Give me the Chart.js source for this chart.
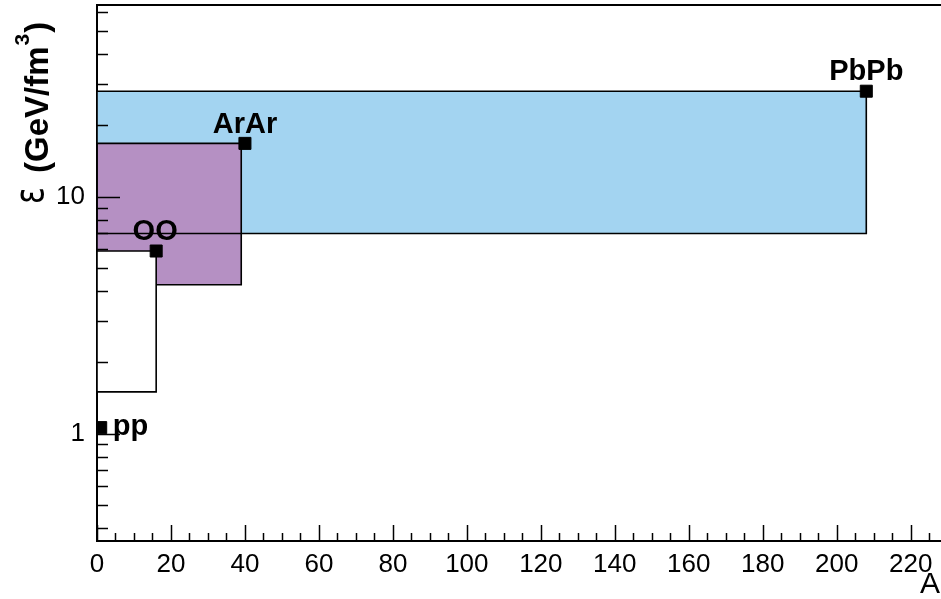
<!DOCTYPE html>
<html>
<head>
<meta charset="utf-8">
<title>energy density vs A</title>
<script src="https://cdn.jsdelivr.net/npm/chart.js@4.4.1/dist/chart.umd.min.js"></script>
<style>
  html, body { margin: 0; padding: 0; background: #fff; overflow: hidden; }
  canvas { display: block; }
</style>
</head>
<body>
<canvas id="chart" width="941" height="599"></canvas>
<script>
// collision systems, mass number A and energy density (GeV/fm^3)
const systems = ['pp', 'OO', 'ArAr', 'PbPb'];
const massNumber = [1, 16, 40, 208];
const energyDensity = [1.06, 5.9, 16.8, 27.9];

// shaded ranges (A from 0 up to boxAMax, eps from boxLow to boxHigh)
const boxNames = ['OO', 'ArAr', 'PbPb'];
const boxAMax = [16, 39, 208];
const boxLow = [1.5, 4.25, 7.0];
const boxHigh = [5.9, 16.8, 27.9];

const xTickLabels = [0, 20, 40, 60, 80, 100, 120, 140, 160, 180, 200, 220];
const yTickLabels = [1, 10];

const FONT = '"Liberation Sans", Arial, Helvetica, sans-serif';

function rectPoints(i) {
  const x0 = 0, x1 = boxAMax[i], y0 = boxLow[i], y1 = boxHigh[i];
  return [
    { x: x0, y: y0 }, { x: x1, y: y0 }, { x: x1, y: y1 }, { x: x0, y: y1 }, { x: x0, y: y0 }
  ];
}

const boxDefaults = { type: 'line', pointRadius: 0, tension: 0, borderJoinStyle: 'miter' };

const datasets = [
  // markers on top
  {
    type: 'line', label: 'systems', order: 0, showLine: false,
    data: systems.map((s, i) => ({ x: massNumber[i], y: energyDensity[i] })),
    pointStyle: 'rect', pointRadius: 8.5, backgroundColor: '#000', borderColor: '#000', borderWidth: 1
  },
  // OO range, white
  { ...boxDefaults, label: boxNames[0], order: 1, data: rectPoints(0), fill: 'shape',
    backgroundColor: '#ffffff', borderColor: '#000', borderWidth: 1.6 },
  // PbPb outline drawn over ArAr fill
  { ...boxDefaults, label: boxNames[2] + ' outline', order: 2, data: rectPoints(2), fill: false,
    borderColor: '#000', borderWidth: 1.6 },
  // ArAr range, purple
  { ...boxDefaults, label: boxNames[1], order: 3, data: rectPoints(1), fill: 'shape',
    backgroundColor: '#b590c3', borderColor: '#000', borderWidth: 1.6 },
  // PbPb range, light blue
  { ...boxDefaults, label: boxNames[2], order: 4, data: rectPoints(2), fill: 'shape',
    backgroundColor: '#a3d4f1', borderWidth: 0 }
];

// label offsets around the markers
const labelPlace = {
  pp:   { dx: 12, dy: 7, align: 'left' },
  OO:   { dx: -1, dy: -11, align: 'center' },
  ArAr: { dx: 0, dy: -10, align: 'center' },
  PbPb: { dx: 0, dy: -11, align: 'center' }
};

const rootStyle = {
  id: 'rootStyle',
  afterDatasetsDraw(chart) {
    const ctx = chart.ctx;
    const area = chart.chartArea;
    const xs = chart.scales.x, ys = chart.scales.y;
    ctx.save();
    ctx.strokeStyle = '#000';
    ctx.lineWidth = 1.5;

    // x ticks, pointing inward
    ctx.beginPath();
    for (let v = 0; v <= xs.max; v += 5) {
      const px = Math.round(xs.getPixelForValue(v)) + 0.5;
      const len = v % 20 === 0 ? 16 : 8;
      ctx.moveTo(px, area.bottom);
      ctx.lineTo(px, area.bottom - len);
    }
    // y ticks (log), pointing inward
    for (let dec = 0.1; dec <= 100; dec *= 10) {
      for (let m = 1; m <= 9; m++) {
        const v = m * dec;
        if (v < ys.min || v > ys.max) continue;
        const py = Math.round(ys.getPixelForValue(v)) + 0.5;
        const len = m === 1 ? 23 : 11;
        ctx.moveTo(area.left, py);
        ctx.lineTo(area.left + len, py);
      }
    }
    ctx.stroke();

    // top frame line
    ctx.lineWidth = 2;
    ctx.beginPath();
    ctx.moveTo(area.left, area.top);
    ctx.lineTo(area.right, area.top);
    ctx.stroke();

    // marker labels
    const meta = chart.getDatasetMeta(0);
    ctx.fillStyle = '#000';
    ctx.font = 'bold 29px ' + FONT;
    ctx.textBaseline = 'alphabetic';
    meta.data.forEach((pt, i) => {
      const p = labelPlace[systems[i]];
      ctx.textAlign = p.align;
      ctx.fillText(systems[i], pt.x + p.dx, pt.y + p.dy);
    });

    // x axis title
    ctx.font = '30px ' + FONT;
    ctx.textAlign = 'right';
    ctx.fillText('A', 940, 593);

    // y axis title, rotated
    ctx.translate(48, 205);
    ctx.rotate(-Math.PI / 2);
    ctx.textAlign = 'left';
    ctx.save();
    ctx.scale(1, 1.3);
    ctx.font = '31px "DejaVu Sans", sans-serif';
    ctx.fillText('\u03b5', 1, -4);
    ctx.restore();
    let pos = 32;
    ctx.font = 'bold 33px ' + FONT;
    ctx.fillText('(GeV/fm', pos, 0);
    pos += ctx.measureText('(GeV/fm').width + 1;
    ctx.font = 'bold 21px ' + FONT;
    ctx.fillText('3', pos, -19);
    pos += ctx.measureText('3').width + 1;
    ctx.font = 'bold 33px ' + FONT;
    ctx.fillText(')', pos, 0);
    ctx.restore();
  }
};

new Chart(document.getElementById('chart'), {
  type: 'line',
  data: { datasets },
  options: {
    responsive: false,
    animation: false,
    layout: { autoPadding: false, padding: { top: 5, right: 0, left: 0, bottom: 0 } },
    plugins: { legend: { display: false }, tooltip: { enabled: false } },
    scales: {
      x: {
        type: 'linear', position: 'bottom', min: 0, max: 228.2,
        grid: { display: false, drawTicks: false },
        border: { display: true, color: '#000', width: 2 },
        ticks: {
          stepSize: 20, includeBounds: false, autoSkip: false, maxRotation: 0,
          color: '#000', font: { family: FONT, size: 26 }, padding: 8,
          callback: (v) => xTickLabels.includes(v) ? String(v) : ''
        },
        afterFit: (s) => { s.height = 58; s.paddingLeft = 0; s.paddingRight = 0; }
      },
      y: {
        type: 'logarithmic', min: 0.352, max: 64.5,
        grid: { display: false, drawTicks: false },
        border: { display: true, color: '#000', width: 2 },
        ticks: {
          autoSkip: false, includeBounds: false,
          color: '#000', font: { family: FONT, size: 26 }, padding: 12,
          callback: (v) => yTickLabels.includes(v) ? String(v) : ''
        },
        afterFit: (s) => { s.width = 97; s.paddingTop = 0; s.paddingBottom = 0; }
      }
    }
  },
  plugins: [rootStyle]
});
</script>
</body>
</html>
